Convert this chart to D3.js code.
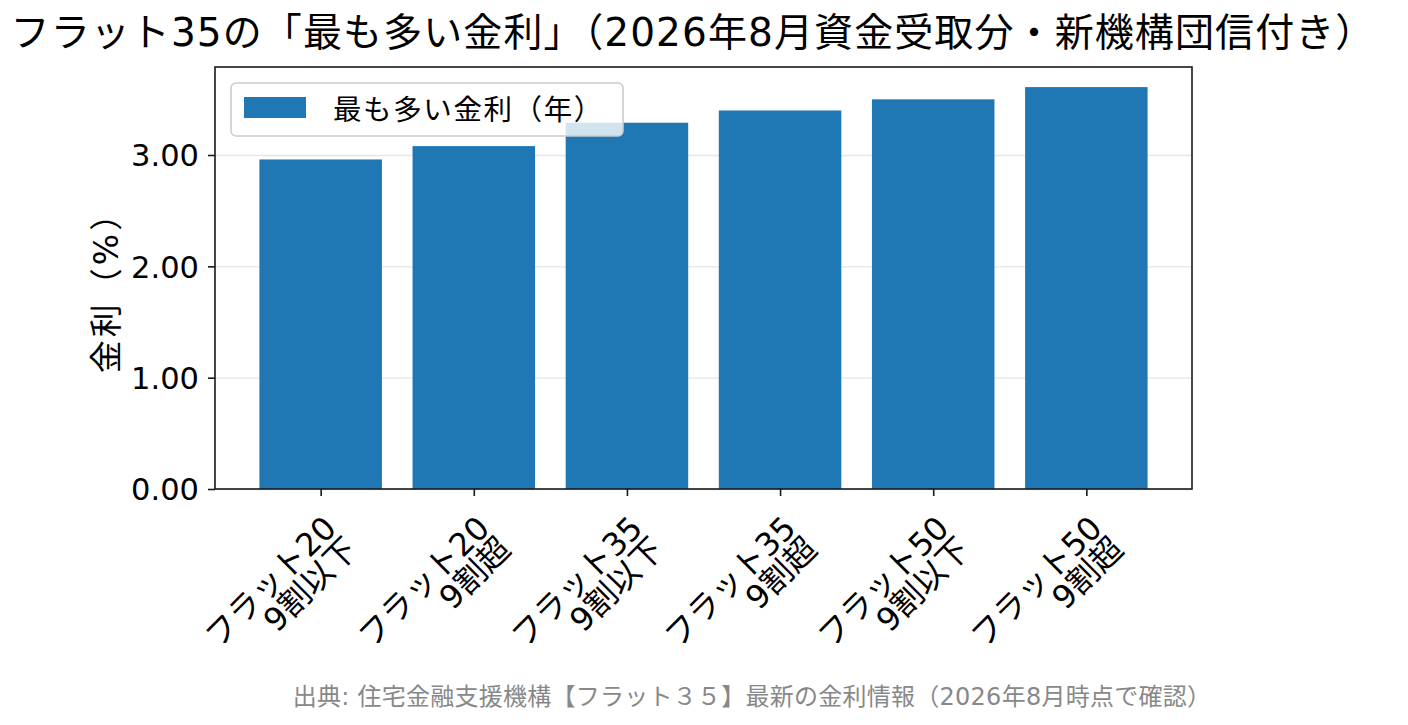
<!DOCTYPE html>
<html>
<head>
<meta charset="utf-8">
<title>フラット35 最も多い金利</title>
<script src="https://d3js.org/d3.v7.min.js"></script>
<style>
	* { margin:0; padding:0; }
	body { background:#fff; font-family:"DejaVu Sans", "Noto Sans CJK JP", sans-serif; }
	svg text { fill:#000; font-family:"DejaVu Sans", "Noto Sans CJK JP", sans-serif; }
	.axis path, .axis line { stroke:#1a1a1a; stroke-width:1.6; }
	.grid line { stroke:#e6e6e6; stroke-width:1.4; }
	.grid path { display:none; }
</style>
</head>
<body>
<div id="chart"></div>
<script>
	// data
	const categories = [
		["フラット20", "9割以下"],
		["フラット20", "9割超"],
		["フラット35", "9割以下"],
		["フラット35", "9割超"],
		["フラット50", "9割以下"],
		["フラット50", "9割超"]
	];
	const rates = [2.96, 3.08, 3.29, 3.40, 3.50, 3.61];
	const yTicks = [0, 1, 2, 3];

	const titleText = "フラット35の「最も多い金利」（2026年8月資金受取分・新機構団信付き）";
	const legendText = "最も多い金利（年）";
	const yLabelText = "金利（%）";
	const sourceText = "出典: 住宅金融支援機構【フラット３５】最新の金利情報（2026年8月時点で確認）";

	const W = 1408, H = 725;
	const m = {left:215, right:1192, top:67, bottom:489};

	const svg = d3.select("#chart").append("svg")
		.attr("width", W).attr("height", H);

	// matplotlib style x extent: bars of width 0.8 plus 5% margins
	const idx = d3.range(categories.length);
	const span = (categories.length - 1) + 0.8;
	const xScale = d3.scaleLinear()
		.domain([-0.4 - span*0.05, categories.length - 1 + 0.4 + span*0.05])
		.range([m.left, m.right]);
	const yScale = d3.scaleLinear()
		.domain([0, d3.max(rates)*1.05])
		.range([m.bottom, m.top]);

	// grid
	svg.append("g")
		.attr("class", "grid")
		.attr("transform", "translate(" + m.left + ",0)")
		.call(d3.axisLeft(yScale).tickValues(yTicks).tickSize(-(m.right - m.left)).tickFormat(""));

	// bars
	svg.selectAll("rect.bar")
		.data(rates)
		.enter()
		.append("rect")
		.attr("class", "bar")
		.attr("x", (d, i) => xScale(i - 0.4))
		.attr("width", (d, i) => xScale(i + 0.4) - xScale(i - 0.4))
		.attr("y", d => yScale(d))
		.attr("height", d => yScale(0) - yScale(d))
		.attr("fill", "#1f77b4");

	// y axis
	const yAxis = svg.append("g")
		.attr("class", "axis")
		.attr("transform", "translate(" + m.left + ",0)")
		.call(d3.axisLeft(yScale).tickValues(yTicks).tickFormat(d3.format(".2f")).tickSize(7).tickPadding(9));
	yAxis.select(".domain").remove();
	yAxis.selectAll("text")
		.attr("dy", "0.36em")
		.style("font-size", "30.5px");

	// x axis
	const xAxis = svg.append("g")
		.attr("class", "axis")
		.attr("transform", "translate(0," + m.bottom + ")")
		.call(d3.axisBottom(xScale).tickValues(idx).tickSize(7).tickFormat(""));
	xAxis.select(".domain").remove();

	xAxis.selectAll(".tick")
		.append("text")
		.attr("transform", "translate(17,41) rotate(-45)")
		.attr("text-anchor", "end")
		.style("font-size", "32px")
		.each(function(d) {
			const t = d3.select(this);
			t.append("tspan").attr("x", 0).attr("dy", 0).text(categories[d][0]);
			t.append("tspan").attr("x", 0).attr("dy", "30px").text(categories[d][1]);
		});

	// frame
	svg.append("rect")
		.attr("x", m.left).attr("y", m.top)
		.attr("width", m.right - m.left).attr("height", m.bottom - m.top)
		.attr("fill", "none").attr("stroke", "#1a1a1a").attr("stroke-width", 1.6);

	// title
	svg.append("text")
		.attr("x", 693).attr("y", 46)
		.attr("text-anchor", "middle")
		.style("font-size", "39px")
		.style("letter-spacing", "1.1px")
		.text(titleText);

	// y label
	svg.append("text")
		.attr("transform", "translate(118," + ((m.top + m.bottom)/2 + 6) + ") rotate(-90)")
		.attr("text-anchor", "middle")
		.style("font-size", "33px")
		.style("letter-spacing", "3px")
		.text(yLabelText);

	// legend
	const lg = svg.append("g").attr("transform", "translate(231,83)");
	lg.append("rect")
		.attr("width", 392).attr("height", 53)
		.attr("rx", 5)
		.attr("fill", "#fff").attr("fill-opacity", 0.8)
		.attr("stroke", "#cccccc").attr("stroke-width", 1.6);
	lg.append("rect")
		.attr("x", 13).attr("y", 14)
		.attr("width", 62).attr("height", 21)
		.attr("fill", "#1f77b4");
	lg.append("text")
		.attr("x", 102).attr("y", 37)
		.style("font-size", "28.5px")
		.style("letter-spacing", "1.6px")
		.text(legendText);

	// source
	svg.append("text")
		.attr("x", 752).attr("y", 705)
		.attr("text-anchor", "middle")
		.style("font-size", "24px")
		.style("letter-spacing", "0.25px")
		.style("fill", "#888")
		.text(sourceText);
</script>
</body>
</html>
